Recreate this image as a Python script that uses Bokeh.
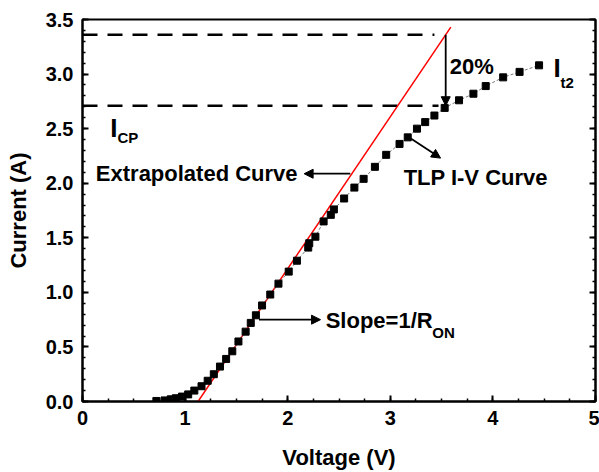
from bokeh.plotting import figure
from bokeh.models import (Range1d, LinearAxis, SingleIntervalTicker, NumeralTickFormatter,
                          Label, Arrow, NormalHead, ColumnDataSource)
from bokeh.embed import file_html
from bokeh.resources import INLINE

# ---- data ----
tlp_voltage = [0.72, 0.80, 0.86, 0.91, 0.97, 1.03, 1.09, 1.16, 1.22, 1.28, 1.34, 1.40,
               1.46, 1.52, 1.59, 1.64, 1.69, 1.75, 1.83, 1.91, 2.01, 2.09, 2.20, 2.21,
               2.27, 2.35, 2.42, 2.45, 2.55, 2.65, 2.74, 2.85, 2.96, 3.09, 3.17, 3.26,
               3.34, 3.43, 3.53, 3.67, 3.81, 3.93, 4.10, 4.26, 4.45]
tlp_current = [0.005, 0.01, 0.02, 0.03, 0.045, 0.065, 0.10, 0.14, 0.19, 0.25, 0.32, 0.39,
               0.46, 0.55, 0.64, 0.72, 0.79, 0.88, 0.98, 1.08, 1.19, 1.29, 1.41, 1.45,
               1.51, 1.65, 1.71, 1.76, 1.86, 1.96, 2.04, 2.15, 2.26, 2.36, 2.42, 2.50,
               2.56, 2.62, 2.69, 2.76, 2.82, 2.89, 2.97, 3.02, 3.08]

fit_voltage = [1.09, 3.59]
fit_current = [-0.05, 3.43]

ref_current = [3.36, 2.71]          # extrapolated level and I_CP level
ref_v_start = [0.0, 0.0]
ref_v_end = [3.43, 3.47]

FONT = "Liberation Sans"

p = figure(width=599, height=472, output_backend="svg", toolbar_location=None,
           x_range=Range1d(0, 5), y_range=Range1d(0, 3.5),
           min_border_left=82, min_border_top=19, min_border_bottom=71, min_border_right=4,
           x_axis_label="Voltage (V)", y_axis_label="Current (A)")
p.grid.visible = False
p.outline_line_color = "black"
p.outline_line_width = 2
p.background_fill_color = "white"
p.border_fill_color = "white"

p.xaxis.ticker = SingleIntervalTicker(interval=1, num_minor_ticks=4)
p.yaxis.ticker = SingleIntervalTicker(interval=0.5, num_minor_ticks=5)
p.yaxis.formatter = NumeralTickFormatter(format="0.0")

for ax in (p.xaxis[0], p.yaxis[0]):
    ax.axis_line_width = 2
    ax.major_tick_line_width = 2
    ax.minor_tick_line_width = 1.5
    ax.major_tick_in = 6
    ax.major_tick_out = 0
    ax.minor_tick_in = 3
    ax.minor_tick_out = 0
    ax.major_label_text_font = FONT
    ax.major_label_text_font_style = "bold"
    ax.major_label_text_font_size = "20px"
    ax.major_label_text_color = "black"
    ax.axis_label_text_font = FONT
    ax.axis_label_text_font_style = "bold"
    ax.axis_label_text_font_size = "22px"
    ax.axis_label_text_color = "black"

p.yaxis.major_label_standoff = 9
p.yaxis.axis_label_standoff = 12
p.xaxis.major_label_standoff = 9
p.xaxis.axis_label_standoff = 17

right = LinearAxis(ticker=SingleIntervalTicker(interval=0.5, num_minor_ticks=5),
                   major_label_text_font_size="1px", major_label_text_color=None,
                   major_label_standoff=0,
                   axis_line_width=2, major_tick_line_width=2, minor_tick_line_width=1.5,
                   major_tick_in=6, major_tick_out=0, minor_tick_in=3, minor_tick_out=0)
p.add_layout(right, "right")

# reference dashed levels
ref_src = ColumnDataSource(dict(x0=ref_v_start, x1=ref_v_end, y=ref_current))
p.segment(x0="x0", y0="y", x1="x1", y1="y", source=ref_src,
          line_color="black", line_width=2.5, line_dash="15 10")

# extrapolated red line
p.line(fit_voltage, fit_current, line_color="red", line_width=1.5)

# TLP curve
src = ColumnDataSource(dict(v=tlp_voltage, i=tlp_current))
p.line("v", "i", source=src, line_color="#777777", line_width=1, line_dash="3 2")
p.scatter("v", "i", source=src, marker="square", size=7, color="black")

# arrows
def arrow(x0, y0, x1, y1):
    p.add_layout(Arrow(end=NormalHead(size=9, fill_color="black", line_color="black", line_width=1),
                       x_start=x0, y_start=y0, x_end=x1, y_end=y1,
                       line_color="black", line_width=1.8))

arrow(3.54, ref_current[0], 3.54, ref_current[1])
arrow(2.61, 2.087, 2.16, 2.087)
arrow(3.20, 2.41, 3.49, 2.23)
arrow(1.72, 0.75, 2.32, 0.75)

def label(x, y, text, size="22px", align="left"):
    p.add_layout(Label(x=x, y=y, text=text, text_font=FONT, text_font_style="bold",
                       text_font_size=size, text_color="black", text_align=align,
                       text_baseline="middle"))

label(3.58, 3.07, "20%")
label(4.59, 3.06, "I", size="26px")
label(4.66, 2.92, "t2", size="15px")
label(0.27, 2.51, "I", size="26px")
label(0.34, 2.42, "CP", size="15px")
label(0.13, 2.09, "Extrapolated Curve")
label(3.13, 2.05, "TLP I-V Curve")
label(2.37, 0.74, "Slope=1/R")
label(3.41, 0.63, "ON", size="15px")

open("out.html", "w").write(file_html(p, INLINE))
